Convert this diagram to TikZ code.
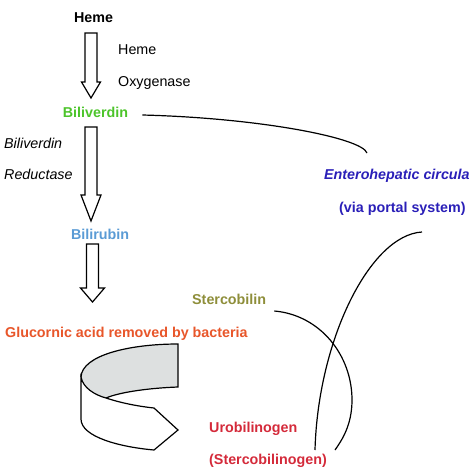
\documentclass[tikz,border=0pt]{standalone}
\usepackage{fontspec}
\setmainfont{Liberation Sans}
\usetikzlibrary{calc}
\definecolor{verdincolor}{HTML}{4CC42A}
\definecolor{rubincolor}{HTML}{5A9BD5}
\definecolor{stercocolor}{HTML}{8E8E3A}
\definecolor{gluccolor}{HTML}{E8562A}
\definecolor{urocolor}{HTML}{D42A3A}
\definecolor{portalcolor}{HTML}{2A1FB8}
\definecolor{ribbongray}{HTML}{DDE0E0}
\newcommand{\thickness}{1.2pt}
\newcommand{\shaft}{6}
% x, top of shaft, start of head, tip, half width of head
\newcommand{\blockarrow}[5]{%
\draw[outline] (#1-\shaft,#2) -- (#1+\shaft,#2) -- (#1+\shaft,#3) -- (#1+#5,#3)
  -- (#1,#4) -- (#1-#5,#3) -- (#1-\shaft,#3) -- cycle;}

\begin{document}
\begin{tikzpicture}[x=1pt,y=-1pt,
  every node/.style={inner sep=0pt,font=\fontsize{14.3}{17}\selectfont},
  compound/.style={font=\fontsize{14.3}{17}\selectfont\bfseries},
  enzyme/.style={anchor=base west},
  outline/.style={line width=\thickness,line join=miter},
  curve/.style={line width=\thickness}]
\useasboundingbox (0,0) rectangle (474,474);
% compounds
\node[compound,anchor=base] (heme) at (93.5,22) {Heme};
\node[compound,anchor=base,text=verdincolor] (biliv) at (95.5,117) {Biliverdin};
\node[compound,anchor=base,text=rubincolor] (bilir) at (100,239) {Bilirubin};
\node[compound,anchor=base west,text=gluccolor] (gluc) at (5,337) {Glucornic acid removed by bacteria};
\node[compound,anchor=base west,text=stercocolor] (sterco) at (192,304) {Stercobilin};
\node[compound,anchor=base west,text=urocolor] (uro) at (209,432) {Urobilinogen};
\node[compound,anchor=base west,text=urocolor] (urogen) at (209,464) {(Stercobilinogen)};
\node[compound,anchor=base west,text=portalcolor] (entero) at (324,179) {\itshape Enterohepatic circula};
\node[compound,anchor=base west,text=portalcolor] (portal) at (339,212) {(via portal system)};
% enzymes
\node[enzyme] (ho1) at (118,54) {Heme};
\node[enzyme] (ho2) at (118,86) {Oxygenase};
\node[enzyme] (bvr1) at (4,148) {\itshape Biliverdin};
\node[enzyme] (bvr2) at (4,179) {\itshape Reductase};
% block arrows
\blockarrow{91}{33}{82}{98}{9.5}
\blockarrow{91}{127}{195}{221}{10}
\blockarrow{92.5}{244}{288}{302}{12}
% curled ribbon
\fill[ribbongray] (81,377) .. controls (82,355) and (130,344) .. (178,344) -- (178,387)
  .. controls (150,388) and (120,392) .. (106,398) .. controls (95,395) and (83,388) .. (81,377);
\draw[outline] (81,377) .. controls (82,355) and (130,344) .. (178,344) -- (178,387)
  .. controls (150,388) and (120,392) .. (106,398);
\draw[outline,fill=white] (81,377) .. controls (83,388) and (95,395) .. (106,398)
  .. controls (118,402) and (135,406) .. (154,408) -- (178,430) -- (154,450)
  .. controls (120,447) and (81,437) .. (81,419) -- cycle;
% circulation
\coordinate (enterotop) at (367,153);
\coordinate (portalfoot) at (422,232);
\coordinate (urofoot1) at (315,450);
\coordinate (urofoot2) at (335,450);
\draw[curve] ([xshift=14pt,yshift=2pt]biliv.base east) .. controls (260,118) and (362,138) .. (enterotop);
\draw[curve] (portalfoot) .. controls (370,235) and (318,340) .. (urofoot1);
\draw[curve] ([xshift=8pt,yshift=-7pt]sterco.base east) .. controls (320,315) and (352,355) .. (352,400)
  .. controls (352,425) and (342,440) .. (urofoot2);
\end{tikzpicture}
\end{document}
